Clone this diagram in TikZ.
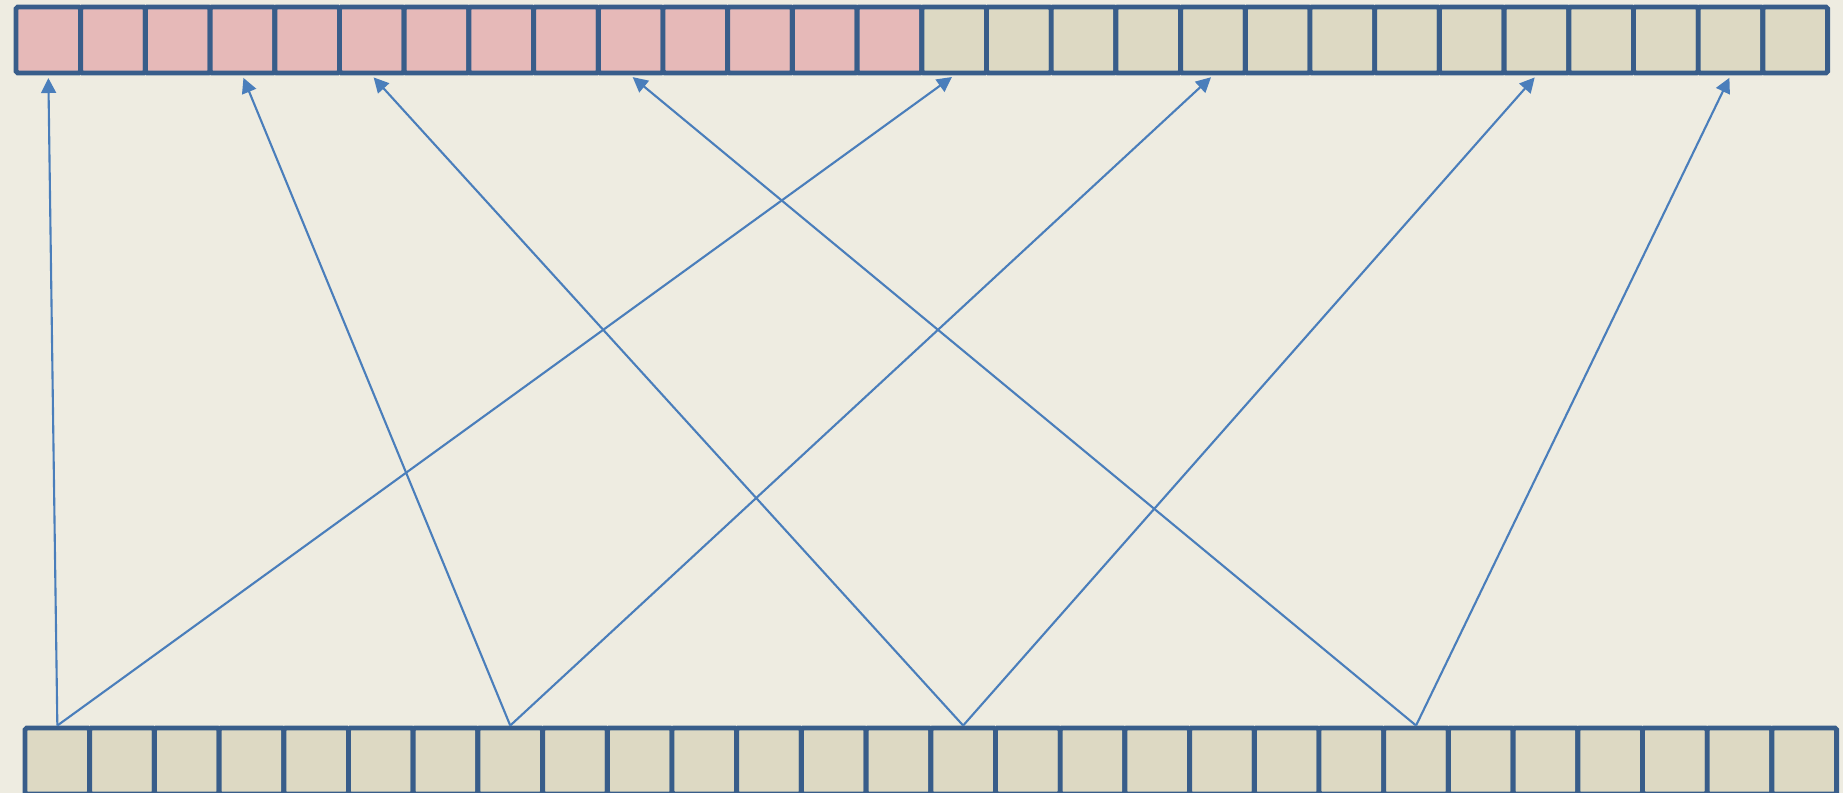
\documentclass[tikz,border=0pt]{standalone}
\usetikzlibrary{arrows.meta}
\definecolor{slidebg}{HTML}{EEECE1}
\definecolor{cellpink}{HTML}{E6B9B8}
\definecolor{cellsand}{HTML}{DDD9C3}
\definecolor{cellline}{HTML}{385D8A}
\definecolor{linkblue}{HTML}{4A7EBB}

\begin{document}
\begin{tikzpicture}[
  cell/.style={draw=cellline, line width=2.8pt, rounded corners=1pt,
    minimum width=1.294cm, minimum height=1.32cm, inner sep=0pt, fill=cellsand},
  link/.style={draw=linkblue, line width=1.2pt, shorten >=1.5pt,
    -{Triangle[width=8.5pt,length=8.5pt]}}]
\fill[slidebg] (0,0) rectangle (36.86,15.86);
\useasboundingbox (0,0) rectangle (36.86,15.86);
% top row: first half highlighted
\foreach \i in {0,...,13}{
  \pgfmathsetmacro{\cx}{(48.35+64.7*\i)/50}
  \node[cell, fill=cellpink] (t\i) at (\cx,15.06) {};
}
\foreach \i in {14,...,27}{
  \pgfmathsetmacro{\cx}{(48.35+64.7*\i)/50}
  \node[cell] (t\i) at (\cx,15.06) {};
}
% bottom row
\foreach \i in {0,...,27}{
  \pgfmathsetmacro{\cx}{(57.35+64.7*\i)/50}
  \node[cell] (b\i) at (\cx,0.64) {};
}
% links from bottom cells up to top cells
\foreach \src/\dst in {0/0,0/14,7/3,7/18,14/5,14/23,21/9,21/26}
  \draw[link] (b\src.north) -- (t\dst.south);
\end{tikzpicture}
\end{document}
